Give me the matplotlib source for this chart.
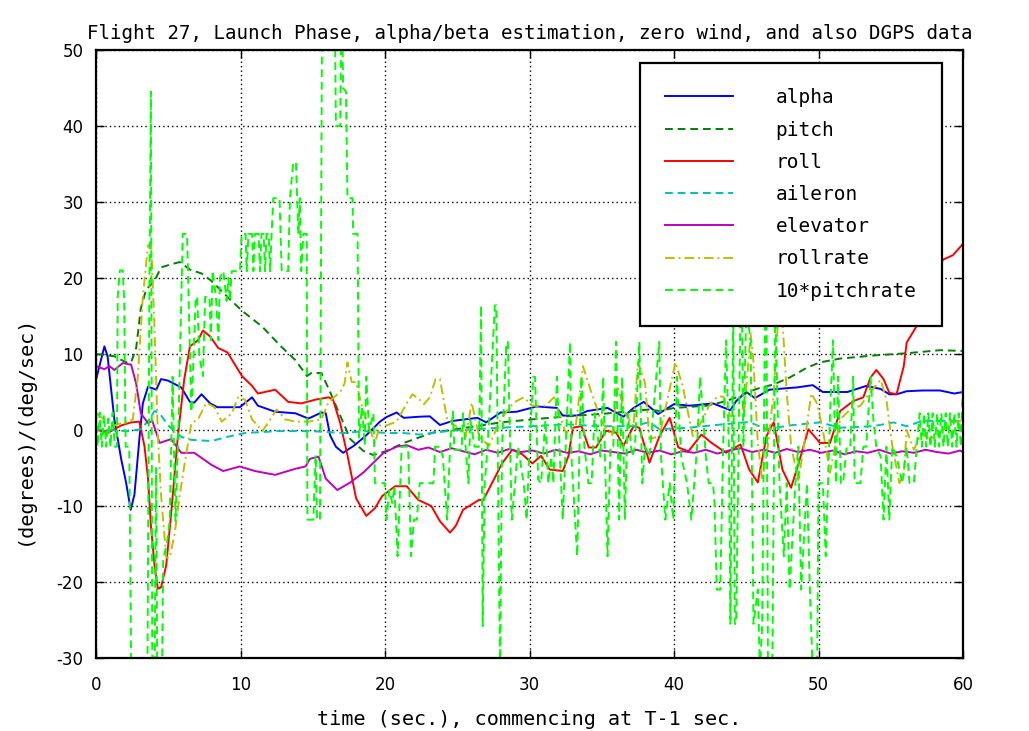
import matplotlib
matplotlib.use("Agg")
import matplotlib.pyplot as plt

plt.rcParams['font.family'] = ['DejaVu Sans']
plt.rcParams['axes.unicode_minus'] = False
MONO = ['DejaVu Sans Mono', 'DejaVu Sans']

title = "Flight 27, Launch Phase, alpha/beta estimation, zero wind, and also DGPS data"
xlabel = "time (sec.), commencing at T-1 sec."
ylabel = "(degrees)/(deg/sec)"
labels = ["alpha", "pitch", "roll", "aileron", "elevator", "rollrate", "10*pitchrate"]
xticks = [0, 10, 20, 30, 40, 50, 60]
yticks = [-30, -20, -10, 0, 10, 20, 30, 40, 50]

alpha = [(0, 6.6), (0.58, 11), (0.8, 9.7), (1.27, 1.4), (1.74, -3.8), (2.08, -6.9), (2.4, -10.5),
         (2.66, -8.5), (3.0, -1.2), (3.24, 3.5), (3.6, 5.7), (4.17, 5.3), (4.5, 6.7), (4.98, 6.5),
         (5.9, 5.6), (6.5, 3.7), (6.8, 3.6), (7.3, 4.7), (7.9, 3.5), (8.4, 3.0), (9.95, 3.0),
         (10.8, 4.3), (11.2, 3.2), (12.4, 2.4), (13.8, 2.2), (14.7, 1.5), (15.6, 2.3), (15.9, 2.2),
         (16.2, -0.7), (16.6, -2.2), (17.1, -3.0), (17.9, -2.0), (18.7, -0.7), (19.65, 1.1),
         (20.1, 1.7), (20.8, 2.3), (21.3, 1.6), (22.4, 1.75), (23.1, 1.8), (23.8, 0.66), (24.7, 1.2),
         (26.4, 1.6), (27.0, 1.0), (28.0, 2.3), (29.1, 2.4), (30.5, 3.1), (31.9, 2.9), (32.3, 1.9),
         (33.3, 1.9), (34.0, 2.5), (35.4, 2.9), (36.5, 1.75), (37.2, 2.9), (37.9, 3.7), (38.9, 2.1),
         (40.0, 3.4), (41.1, 3.2), (42.7, 3.5), (43.9, 2.6), (44.3, 3.8), (45.0, 5.0), (45.6, 4.2),
         (46.6, 5.3), (47.8, 5.5), (48.5, 5.6), (49.6, 5.9), (50.3, 5.0), (52.0, 5.0), (53.3, 5.8),
         (54.3, 5.4), (54.9, 4.7), (55.4, 4.7), (56.1, 5.1), (57.2, 5.2), (58.4, 5.2), (59.4, 4.8),
         (60, 5.0)]

pitch = [(0, 10), (1.27, 9.7), (2.08, 8.9), (2.43, 8.9), (2.78, 10.8), (3.1, 16), (3.47, 18.5),
         (4.05, 19.6), (4.5, 21.4), (5.2, 21.8), (5.8, 22.1), (6.5, 21.1), (7.3, 20.6), (8.0, 19.6),
         (9.1, 17.5), (10.1, 15.7), (11.5, 13.6), (12.8, 11), (13.8, 9.2), (14.6, 7.1), (14.9, 7.5),
         (15.6, 7.5), (16.2, 5.0), (16.9, 1.9), (17.6, -1.2), (18.5, -2.75), (19.2, -3.3),
         (20.1, -2.75), (21.3, -1.7), (23.3, -0.35), (25.6, 0.3), (28.0, 1.0), (30.2, 1.4),
         (32.6, 1.8), (34.9, 2.1), (37.2, 2.5), (38.3, 2.7), (39.0, 2.5), (40.0, 2.9), (42.3, 3.2),
         (43.6, 3.8), (44.6, 4.5), (45.7, 5.4), (46.9, 6.0), (48.0, 6.9), (49.2, 8.2), (50.1, 8.9),
         (51.5, 9.4), (53.8, 9.8), (56.1, 10.1), (58.4, 10.5), (60, 10.4)]

roll = [(0, 0.1), (0.8, -0.4), (1.74, 0.6), (2.43, 1.0), (3.0, 1.1), (3.36, -2.2), (3.6, -6.4),
        (3.8, -12.6), (4.05, -17.8), (4.28, -20.9), (4.5, -20.7), (4.86, -17.8), (5.2, -11),
        (5.67, -0.7), (6.1, 6.6), (6.5, 11), (7.06, 11.8), (7.4, 13.1), (7.9, 12.3), (8.45, 10.8),
        (9.1, 10.2), (10.1, 7.1), (10.8, 5.8), (11.2, 4.8), (12.4, 5.3), (13.3, 3.7), (14.2, 3.5),
        (15.2, 4.0), (16.1, 4.3), (16.4, 4.0), (16.9, 0.9), (17.4, -3.3), (18.0, -9.0),
        (18.7, -11.3), (19.3, -10.3), (19.8, -8.7), (20.7, -7.4), (21.5, -7.4), (22.3, -9.2),
        (23.2, -10), (23.8, -12), (24.5, -13.5), (24.9, -12.6), (25.4, -10.5), (26.5, -9.2),
        (26.8, -9.2), (27.4, -7), (28.1, -4.4), (28.8, -2.6), (29.5, -3.2), (29.9, -3.9),
        (30.2, -4.4), (30.8, -3.4), (31.4, -5.2), (32.3, -5.4), (32.7, -3.4), (33.0, 0.3),
        (33.6, 0.5), (34.1, -2.3), (34.6, -2.3), (35.3, -0.1), (36.0, -0.35), (36.5, -2.1),
        (37.2, 0.5), (37.6, 0.3), (38.3, -4.3), (39.0, -0.8), (39.7, 1.6), (40.3, -2.3),
        (41.0, -2.8), (41.9, -0.6), (42.6, -1.7), (43.6, -3.0), (44.6, -1.9), (45.2, -5.2),
        (45.8, -6.9), (46.4, -0.8), (46.9, 1.0), (47.5, -5.2), (48.1, -7.6), (48.7, -3.9),
        (49.3, 0.1), (50.1, -1.7), (50.8, -1.7), (51.5, 2.5), (52.4, 3.8), (53.1, 4.3), (53.6, 6.9),
        (54.0, 7.9), (54.5, 6.7), (54.9, 4.9), (55.4, 4.7), (55.9, 8.4), (56.1, 11.5), (56.8, 13.7),
        (57.3, 15.5), (57.8, 18), (58.6, 22.4), (59.3, 23), (60, 24.5)]

aileron = [(0, 0.1), (2.2, -0.15), (3.1, 0.1), (3.7, 1.4), (4.05, 2.5), (4.4, 2.2), (5.0, 0.6),
           (5.9, -0.9), (6.6, -1.3), (8.0, -1.45), (9.1, -0.9), (10.3, -0.4), (12.6, -0.15),
           (14.9, -0.15), (17.2, -0.4), (18.5, -0.15), (20.1, -0.4), (21.3, -0.4), (22.4, -0.6),
           (24.5, -0.1), (28.0, 0.3), (30.2, 0.5), (32.5, 0.75), (34.9, 0.5), (37.2, 0.5),
           (38.3, 1.05), (39.0, 0.1), (41.0, 0.3), (43.4, 0.75), (45.2, 1.05), (46.4, 0.1),
           (48.0, 0.6), (50.1, 1.0), (51.5, 0.3), (53.8, 0.5), (55.2, 1.0), (56.1, 0.5),
           (57.2, 1.2), (60, 1.2)]

elevator = [(0, 8.4), (0.58, 8.0), (0.93, 8.4), (1.27, 7.9), (1.85, 8.8), (2.43, 8.6), (2.78, 6.1),
            (3.1, 2.2), (3.6, 0.9), (3.9, 1.2), (4.4, -1.7), (5.2, -1.2), (5.9, -3.0), (6.8, -3.0),
            (8.0, -4.6), (8.8, -5.4), (9.95, -4.8), (11.0, -5.4), (12.4, -5.9), (13.8, -5.1),
            (14.5, -4.8), (14.8, -3.8), (15.4, -3.5), (15.9, -6.4), (16.7, -7.9), (17.6, -6.9),
            (18.5, -5.6), (19.2, -4.3), (19.9, -3.0), (20.8, -2.2), (21.5, -2.0), (22.3, -2.6),
            (23.0, -2.3), (23.8, -2.9), (24.6, -2.4), (25.4, -2.8), (26.2, -3.2), (27.0, -2.6),
            (27.8, -3.0), (28.6, -2.5), (29.4, -2.9), (30.2, -2.7), (31.0, -3.1), (31.8, -2.6),
            (32.6, -3.0), (33.4, -2.8), (34.2, -3.2), (35.0, -2.7), (35.8, -2.9), (36.6, -3.1),
            (37.4, -2.6), (38.2, -3.0), (39.0, -2.7), (39.8, -3.2), (40.6, -2.8), (41.4, -3.0),
            (42.2, -2.6), (43.0, -3.1), (43.8, -2.7), (44.6, -2.4), (45.4, -2.9), (46.2, -2.6),
            (47.0, -3.0), (47.8, -2.5), (48.6, -2.9), (49.4, -2.6), (50.2, -3.0), (51.0, -2.7),
            (51.8, -3.2), (52.6, -2.8), (53.4, -3.0), (54.2, -2.6), (55.0, -3.1), (55.8, -2.8),
            (56.6, -3.0), (57.4, -2.6), (58.2, -2.9), (59.0, -3.1), (59.8, -2.7), (60, -2.9)]

rollrate = [(0, 2.2), (0.58, 1.4), (1.27, 0.6), (2.08, 1.1), (2.55, 1.4), (2.9, 7.1), (3.24, 17.5),
            (3.6, 24.3), (3.82, 24.3), (4.05, 13.4), (4.28, -0.7), (4.5, -8.5), (4.86, -16.8),
            (5.1, -16.8), (5.44, -13.7), (5.8, -8.5), (6.1, -4.8), (6.6, 0.9), (7.06, 1.4),
            (7.64, 3.6), (8.2, 3.0), (8.7, 1.1), (9.4, 2.2), (9.84, 4.3), (10.3, 4.0), (10.8, 1.4),
            (11.5, -0.15), (11.9, 0.9), (12.5, 2.7), (13.1, 1.4), (13.8, 1.1), (14.7, 1.1),
            (15.6, 1.4), (16.1, 3.7), (16.9, 5.0), (17.2, 6.1), (17.4, 8.9), (17.7, 6.3),
            (18.0, 6.3), (18.5, 2.4), (18.95, 0.1), (19.3, -1.7), (19.65, 0.6), (20.1, 0.6),
            (20.8, 1.1), (21.5, 3.5), (21.9, 4.7), (22.4, 4.0), (22.7, 3.4), (23.1, 4.3),
            (23.5, 6.7), (23.8, 6.7), (24.3, 1.4), (24.9, 0.5), (25.6, -0.8), (26.0, 3.6),
            (26.5, -0.8), (27.2, -2.1), (28.0, 1.4), (28.9, 3.6), (29.6, 4.3), (30.2, 3.2),
            (31.1, 3.2), (31.7, 4.3), (32.5, -0.35), (33.2, 0.5), (33.7, 8.4), (34.2, 5.4),
            (35.0, 1.0), (35.7, -0.8), (36.1, 5.8), (36.6, 2.3), (37.2, 0.5), (37.5, 8.9),
            (38.0, 6.2), (38.3, -1.2), (39.0, -0.8), (39.7, 5.4), (40.1, 8.9), (40.6, 5.8),
            (41.3, -0.8), (42.0, 1.4), (42.4, 3.1), (43.0, 4.4), (43.4, 4.4), (43.9, 1.8),
            (44.5, 2.0), (44.9, 3.0), (45.3, 12.7), (45.5, 9.0), (45.8, -1.7), (46.1, -6.6),
            (46.5, -2.0), (46.9, 5.0), (47.2, 14.5), (47.5, 14.5), (47.8, 5.0), (48.1, -2.0),
            (48.3, -3.9), (48.6, -6.6), (49.0, -2.0), (49.5, 4.8), (49.9, 3.5), (50.3, 0.0),
            (50.8, -5.6), (51.5, 1.4), (52.2, 2.7), (52.9, 3.2), (53.6, 5.0), (54.3, 6.6),
            (54.7, 4.0), (55.1, -2.0), (55.6, -7.0), (55.9, -6.0), (56.1, 0.0), (56.6, -2.6),
            (57.1, -0.5), (57.7, -1.2), (58.4, -0.35), (59.3, 1.0), (60, 1.3)]

pitchrate10 = [(0, 2.3), (0.1, -2.2), (0.25, 2.3), (0.4, -2.2), (0.55, 2.0), (0.7, -2.2), (0.85, 1.5),
               (1.0, -2.2), (1.15, 2.3), (1.3, -2.2), (1.45, -2.2), (1.5, 17.5), (1.65, 21), (1.85, 21),
               (1.95, 17), (2.05, -2.2), (2.3, -2.2), (2.45, -35), (3.55, -35), (3.7, 20), (3.8, 44.5),
               (3.9, -35), (4.05, -35), (4.15, -5), (4.25, -35), (4.55, -35), (4.65, -17), (4.9, -15),
               (5.1, -12), (5.3, 7), (5.5, -12), (5.7, 0), (6.0, 25.8), (6.3, 25.8), (6.6, 2.4),
               (6.7, 7), (6.9, 17.5), (7.0, 17.5), (7.15, 9.7), (7.4, 7.1), (7.55, 17.5), (7.85, 17.5),
               (7.95, 11.8), (8.07, 21), (8.3, 17.5), (8.47, 11.8), (8.58, 20.1), (8.81, 20.9),
               (9.04, 17), (9.16, 20), (9.27, 17), (9.39, 20.9), (9.96, 20.9), (10.08, 25.8),
               (10.35, 25.8), (10.43, 20.9), (10.55, 25.8), (10.8, 25.8), (10.89, 20.9), (11.0, 25.8),
               (11.25, 25.8), (11.35, 20.9), (11.45, 25.8), (11.6, 25.8), (11.7, 20.9), (11.8, 25.8),
               (11.95, 25.8), (12.04, 20.9), (12.15, 25.8), (12.27, 30.5), (12.7, 30.5), (12.85, 20.9),
               (13.3, 20.9), (13.42, 30.5), (13.65, 35.2), (13.84, 35.2), (14.0, 25.8), (14.1, 30.5),
               (14.2, 20.9), (14.35, 25.8), (14.58, 25.8), (14.63, -11.8), (15.04, -11.8), (15.2, -3.3),
               (15.3, -11.8), (15.5, -11.8), (15.65, 60), (16.5, 60), (16.6, 40), (16.9, 40), (17.0, 60),
               (17.1, 45), (17.3, 44.5), (17.4, 30.5), (17.75, 30.5), (17.8, 25.8), (18.1, 25.8),
               (18.2, -1), (18.4, 3), (18.6, -2), (18.7, 7), (18.9, 0), (19.2, 2.2), (19.3, -7),
               (20.0, -7), (20.1, -11.8), (20.3, -7.9), (20.5, -9.6), (20.65, -7.4), (20.87, -16.6),
               (21.15, -2.2), (21.6, -2.2), (21.8, -16.6), (22.0, -11.8), (22.2, -11.8), (22.4, -7),
               (23.35, -7), (23.46, -2.2), (23.8, -2.2), (24.0, -3.5), (24.3, -11.8), (24.5, -2.2),
               (24.7, 2.4), (24.8, -2.6), (25.3, -2.6), (25.4, 2.2), (25.77, -7), (25.9, 1.3),
               (26.2, -2.2), (26.5, -2.2), (26.65, 16.4), (26.76, -25.8), (26.9, -7), (27.1, -2.2),
               (27.6, 16.4), (27.7, 16.4), (27.96, -32), (28.1, -2.2), (28.4, 11.6), (28.5, 11.6),
               (28.77, -11.8), (29.0, -7), (29.2, -2.2), (29.6, -7), (29.8, -11.8), (30.0, -2.2),
               (30.26, 7), (30.38, 7), (30.6, -6.5), (30.8, -7), (31.1, 1.3), (31.3, -7), (31.5, -3.5),
               (31.65, -7), (31.9, 7), (32.1, -3.5), (32.3, -11.8), (32.6, 2.2), (32.8, 11.6),
               (32.9, -3.5), (33.3, -16.6), (33.5, 1.3), (33.6, 7), (33.8, -2.2), (34.07, -7),
               (34.3, -7), (34.5, 2.2), (34.9, -3.5), (35.1, 7), (35.2, -2.2), (35.4, -16.6),
               (35.6, -2.2), (35.8, -2.2), (35.99, 11.6), (36.2, -11.8), (36.4, 7), (36.6, -11.8),
               (36.8, 2.2), (37.1, -3.5), (37.3, -2.2), (37.6, 11.6), (37.8, -7), (38.0, -2.2),
               (38.3, -3.5), (38.98, 11.6), (39.1, -3.5), (39.4, -11.8), (39.7, -7), (39.95, -11.8),
               (40.2, 7), (40.5, -3.5), (40.9, -7), (41.2, -11.8), (41.6, -2.2), (41.8, 7), (42.0, 2.2),
               (42.2, -3.5), (42.4, -7), (42.7, -7), (42.8, -9.6), (42.96, -21), (43.2, -21),
               (43.4, -2.2), (43.6, 11.8), (43.8, -2.2), (43.9, -25.5), (44.1, 16), (44.2, -25.5),
               (44.3, -25.5), (44.6, 16), (44.7, 16), (44.8, -2.2), (45.0, 16), (45.3, 11.8),
               (45.5, -25.5), (45.8, -21), (45.95, -32), (46.1, -25.5), (46.3, 16), (46.4, 16),
               (46.5, -32), (46.8, -32), (47.0, 16), (47.3, -7), (47.6, -16.6), (47.8, -7), (48.0, -21),
               (48.4, -7), (48.6, -2.2), (48.8, -21), (49.2, -7), (49.4, -21), (49.6, -32), (49.9, -32),
               (50.0, -7), (50.3, -7), (50.5, -16.6), (50.8, 2.2), (51.0, 11.8), (51.2, -7),
               (51.35, 7), (51.55, -7), (51.7, -7), (51.95, -2.2), (52.2, -2.2), (52.4, 7), (52.5, -7),
               (52.9, -7), (53.1, -2.2), (53.3, -2.2), (53.6, 7), (53.8, 1.3), (54.0, -2.2),
               (54.3, -3.5), (54.5, -11.8), (54.7, -2.2), (54.9, -11.8), (55.1, -2.2), (55.4, -3.5),
               (55.8, -7), (56.1, -2.2), (56.3, -7), (56.6, -7), (56.8, -2.2), (57.0, 2.2),
               (57.15, -2.2), (57.3, 2.2), (57.45, -2.2), (57.6, 2.2), (57.75, -2.2), (57.9, 2.2),
               (58.05, -2.2), (58.2, 2.2), (58.35, -2.2), (58.5, 2.2), (58.65, -2.2), (58.8, 2.2),
               (58.95, -2.2), (59.1, 2.2), (59.25, -2.2), (59.4, 2.2), (59.55, -2.2), (59.7, 2.2),
               (59.85, -2.2), (60, 6.5)]

series = [alpha, pitch, roll, aileron, elevator, rollrate, pitchrate10]
colors = ["#0000ff", "#007f00", "#ff0000", "#00bfbf", "#bf00bf", "#bfbf00", "#00ff00"]
styles = ["-", (0, (4, 2.5)), "-", (0, (4, 2.5)), "-", (0, (5, 2, 1, 2)), (0, (4, 2.5))]

fig = plt.figure(figsize=(10.29, 7.31), dpi=100)
ax = fig.add_axes([96 / 1029, 1 - 658 / 731, 867 / 1029, 608 / 731])

for data, lab, col, ls in zip(series, labels, colors, styles):
    t = [p[0] for p in data]
    v = [p[1] for p in data]
    ax.plot(t, v, color=col, linestyle=ls, linewidth=1.4, label=lab)

ax.set_xlim(0, 60)
ax.set_ylim(-30, 50)
ax.set_xticks(xticks)
ax.set_yticks(yticks)
ax.grid(True, color="black", linestyle=(0, (1, 2.2)), linewidth=1.0)
ax.tick_params(direction="in", length=6, width=1, top=True, right=True,
               labelsize=12)
ax.tick_params(axis="x", pad=13)
ax.tick_params(axis="y", pad=9)
for s in ax.spines.values():
    s.set_linewidth(1.6)

ax.set_title(title, fontsize=13.8, pad=8, family=MONO)
ax.set_xlabel(xlabel, fontsize=14.5, family=MONO)
ax.set_ylabel(ylabel, fontsize=14.5, family=MONO)
ax.xaxis.set_label_coords(0.5, -0.085)
ax.yaxis.set_label_coords(-0.072, 0.375)

leg = ax.legend(loc="upper right", bbox_to_anchor=(0.9758, 0.9786), borderaxespad=0,
                prop={'family': MONO, 'size': 14}, handlelength=3.5, handletextpad=2.2,
                labelspacing=0.68, borderpad=1.3, fancybox=False, framealpha=1,
                edgecolor="black")
leg.get_frame().set_linewidth(1.6)

fig.savefig("out.png", dpi=100, facecolor="white")
